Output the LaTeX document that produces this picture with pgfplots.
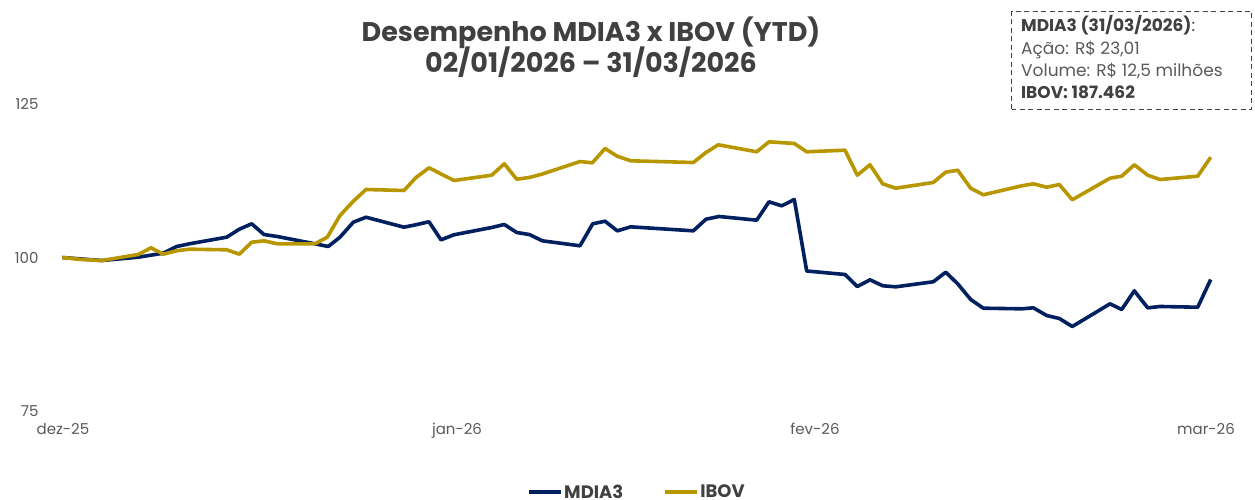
\documentclass[border=0pt]{standalone}
\usepackage{pgfplots}
\pgfplotsset{compat=1.18}
\usepackage{fontspec}
\setmainfont{Poppins}
\definecolor{navy}{RGB}{0,32,96}
\definecolor{gold}{RGB}{184,150,0}
\definecolor{txtdark}{RGB}{64,64,64}
\definecolor{txtgray}{RGB}{89,89,89}
\begin{document}
\begin{tikzpicture}
\begin{axis}[
  at={(62pt,87.5pt)}, anchor=south west,
  scale only axis, width=1149pt, height=308pt,
  xmin=62, xmax=1211, ymin=75, ymax=125,
  axis x line*=bottom, axis y line*=left,
  axis line style={draw=none},
  major tick length=0pt,
  xtick={63,457,815,1206},
  xticklabels={dez-25,jan-26,fev-26,mar-26},
  ytick={75,100,125},
  /pgf/number format/assume math mode=true,
  ticklabel style={font=\fontsize{15}{18}\selectfont, text=txtgray},
  xticklabel style={yshift=-8pt},
  yticklabel style={xshift=-20pt},
  clip=false,
  legend columns=2,
  legend style={draw=none, fill=none, at={(0.5,-0.262)}, anchor=center,
    font=\fontsize{18}{20}\selectfont\bfseries, text=txtdark,
    inner sep=0pt, nodes={inner sep=1.5pt},
    /tikz/every even column/.append style={column sep=38pt}},
  legend image code/.code={\draw[#1,line width=4pt] (0pt,0pt) -- (32pt,0pt);},
  every axis plot/.append style={line width=3.6pt, line join=round},
]
\addplot[navy] coordinates {
(62.3,100.0) (101.7,99.51) (138.3,100.05) (163.3,100.70) (176.7,101.79) (189.3,102.22)
(226.7,103.30) (239.3,104.59) (251.7,105.47) (264,103.73) (277.3,103.41) (315,102.22)
(328.3,101.79) (340,103.30) (353.3,105.73) (366,106.54) (404,104.92) (415.7,105.31)
(429,105.80) (441,102.87) (454,103.69) (491.7,104.87) (504.3,105.36) (516.7,104.06)
(529.3,103.73) (542.3,102.71) (580,101.90) (592.7,105.47) (605,105.89) (617.3,104.33)
(630.7,104.98) (693.3,104.33) (706,106.22) (719,106.66) (756.7,106.06) (769,109.04)
(781.7,108.39) (794.3,109.42) (806.7,97.81) (845,97.24) (857.3,95.29) (870,96.38)
(882.7,95.41) (895.7,95.24) (933.3,96.06) (945.7,97.61) (957.7,95.73) (970.7,93.18)
(983.3,91.77) (1021.7,91.67) (1033.3,91.83) (1046.7,90.58) (1059.3,90.10) (1072.3,88.80)
(1110,92.48) (1121.7,91.56) (1134.3,94.59) (1147.7,91.83) (1160,92.05) (1197.7,91.93)
(1210.7,96.43)
};
\addlegendentry{MDIA3}
\addplot[gold] coordinates {
(62.3,100.0) (81.7,99.68) (101.7,99.51) (138.3,100.49) (151,101.57) (163.3,100.54)
(176.7,101.09) (189.3,101.35) (226.7,101.25) (239.3,100.54) (251.7,102.48) (264,102.71)
(277.3,102.22) (315,102.22) (327.3,103.30) (340,106.82) (353.3,109.14) (366,111.04)
(404,110.88) (416,112.99) (429,114.56) (454,112.50) (491.7,113.36) (504.3,115.21)
(516.7,112.71) (529.3,112.99) (541.7,113.52) (580,115.58) (592.3,115.37) (605,117.69)
(617.3,116.44) (630.7,115.70) (693.3,115.42) (706,117.05) (718.3,118.30) (756.7,117.16)
(769,118.78) (794.3,118.51) (806.7,117.16) (845,117.42) (857.3,113.36) (870,115.05)
(882.7,111.96) (895.7,111.25) (933.3,112.18) (945.7,113.85) (957.7,114.17) (970.7,111.25)
(983.3,110.18) (1021.7,111.64) (1033.3,111.96) (1046.7,111.41) (1059.3,111.85) (1072.3,109.37)
(1110,112.87) (1121.7,113.20) (1134.3,115.05) (1147.7,113.36) (1160,112.66) (1197.7,113.20)
(1210.7,116.28)
};
\addlegendentry{IBOV}
\end{axis}
% title
\node[anchor=base, font=\fontsize{27}{30}\selectfont\bfseries, text=txtdark, inner sep=0pt]
  at (591pt,457pt) {Desempenho MDIA3 x IBOV (YTD)};
\node[anchor=base, font=\fontsize{27}{30}\selectfont\bfseries, text=txtdark, inner sep=0pt]
  at (591pt,426.5pt) {02/01/2026 – 31/03/2026};
% info box
\draw[txtdark, line width=1.2pt, dash pattern=on 5pt off 3.5pt] (1011.5pt,389.5pt) rectangle (1251.5pt,487.5pt);
\node[anchor=base west, inner sep=0pt, font=\fontsize{17}{20}\selectfont, text=txtdark]
  at (1021pt,467pt) {\textbf{MDIA3 (31/03/2026)}:};
\node[anchor=base west, inner sep=0pt, font=\fontsize{17}{20}\selectfont, text=txtgray]
  at (1021pt,444.5pt) {Ação: R\$ 23,01};
\node[anchor=base west, inner sep=0pt, font=\fontsize{17}{20}\selectfont, text=txtgray]
  at (1021pt,422.5pt) {Volume: R\$ 12,5 milhões};
\node[anchor=base west, inner sep=0pt, font=\fontsize{17}{20}\selectfont\bfseries, text=txtdark]
  at (1021pt,400.5pt) {IBOV: 187.462};
\pgfresetboundingbox
\path[use as bounding box] (0pt,0pt) rectangle (1255pt,499pt);
\end{tikzpicture}
\end{document}
